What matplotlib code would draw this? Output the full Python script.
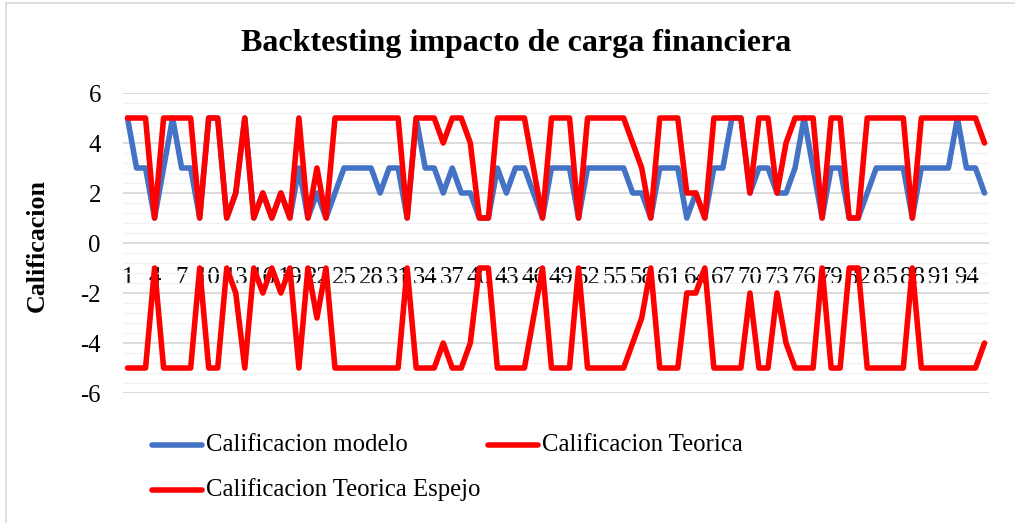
import matplotlib
matplotlib.use("Agg")
import matplotlib.pyplot as plt
from matplotlib.ticker import MultipleLocator
from matplotlib.lines import Line2D

# ---- data ----
periodos = list(range(1, 97))
calif_modelo = [5, 3, 3, 1, 3, 5, 3, 3, 1, 5, 5, 1, 2, 5, 1, 2, 1, 2, 1, 3,
                1, 2, 1, 2, 3, 3, 3, 3, 2, 3, 3, 1, 5, 3, 3, 2, 3, 2, 2, 1,
                1, 3, 2, 3, 3, 2, 1, 3, 3, 3, 1, 3, 3, 3, 3, 3, 2, 2, 1, 3,
                3, 3, 1, 2, 1, 3, 3, 5, 5, 2, 3, 3, 2, 2, 3, 5, 3, 1, 3, 3,
                1, 1, 2, 3, 3, 3, 3, 1, 3, 3, 3, 3, 5, 3, 3, 2]
calif_teorica = [5, 5, 5, 1, 5, 5, 5, 5, 1, 5, 5, 1, 2, 5, 1, 2, 1, 2, 1, 5,
                 1, 3, 1, 5, 5, 5, 5, 5, 5, 5, 5, 1, 5, 5, 5, 4, 5, 5, 4, 1,
                 1, 5, 5, 5, 5, 3, 1, 5, 5, 5, 1, 5, 5, 5, 5, 5, 4, 3, 1, 5,
                 5, 5, 2, 2, 1, 5, 5, 5, 5, 2, 5, 5, 2, 4, 5, 5, 5, 1, 5, 5,
                 1, 1, 5, 5, 5, 5, 5, 1, 5, 5, 5, 5, 5, 5, 5, 4]
calif_espejo = [-5, -5, -5, -1, -5, -5, -5, -5, -1, -5, -5, -1, -2, -5, -1, -2, -1, -2, -1, -5,
                -1, -3, -1, -5, -5, -5, -5, -5, -5, -5, -5, -1, -5, -5, -5, -4, -5, -5, -4, -1,
                -1, -5, -5, -5, -5, -3, -1, -5, -5, -5, -1, -5, -5, -5, -5, -5, -4, -3, -1, -5,
                -5, -5, -2, -2, -1, -5, -5, -5, -5, -2, -5, -5, -2, -4, -5, -5, -5, -1, -5, -5,
                -1, -1, -5, -5, -5, -5, -5, -1, -5, -5, -5, -5, -5, -5, -5, -4]
x_tick_vals = list(range(1, 97, 3))
x_tick_labels = [str(v) for v in x_tick_vals]
y_tick_vals = [-6, -4, -2, 0, 2, 4, 6]
y_tick_labels = ["-6", "-4", "-2", "0", "2", "4", "6"]
series_names = ["Calificacion modelo", "Calificacion Teorica", "Calificacion Teorica Espejo"]
title = "Backtesting impacto de carga financiera"
ylabel = "Calificacion"

BLUE = "#4472C4"
RED = "#FF0000"

plt.rcParams['font.family'] = ['Liberation Serif', 'DejaVu Serif']

W, H = 1015, 523
fig = plt.figure(figsize=(W / 100, H / 100), dpi=100)

# chart border
fig.add_artist(Line2D([6 / W, 6 / W], [0, 1 - 3 / H], transform=fig.transFigure,
                      color="#D9D9D9", lw=1.2))
fig.add_artist(Line2D([6 / W, 1], [1 - 3 / H, 1 - 3 / H], transform=fig.transFigure,
                      color="#D9D9D9", lw=1.2))

left, right, top, bottom = 123, 989, 93, 393
ax = fig.add_axes([left / W, (H - bottom) / H, (right - left) / W, (bottom - top) / H])

lw = 4.0
kw = dict(solid_joinstyle='round', solid_capstyle='round')
ax.plot(periodos, calif_modelo, color=BLUE, lw=lw, zorder=3, **kw)
ax.plot(periodos, calif_teorica, color=RED, lw=lw, zorder=4, **kw)
ax.plot(periodos, calif_espejo, color=RED, lw=lw, zorder=5, **kw)

ax.set_xlim(0.5, 96.5)
ax.set_ylim(-6, 6)
ax.yaxis.set_major_locator(MultipleLocator(2))
ax.yaxis.set_minor_locator(MultipleLocator(0.4))
ax.grid(axis='y', which='major', color="#D9D9D9", lw=1.3, zorder=0)
ax.grid(axis='y', which='minor', color="#F2F2F2", lw=1.0, zorder=0)
ax.set_axisbelow(True)

ax.set_xticks(x_tick_vals)
ax.set_xticklabels(x_tick_labels)
ax.spines['bottom'].set_position(('data', 0))
for s in ax.spines.values():
    s.set_color('none')
ax.tick_params(axis='x', length=0, pad=17, labelsize=17.8, colors='black')
ax.tick_params(axis='y', which='both', length=0, pad=16, labelsize=17.8)
ax.set_yticks(y_tick_vals)
ax.set_yticklabels(y_tick_labels)

fig.text(516 / W, 1 - 43 / H, title, ha='center', va='center', fontsize=23, fontweight='bold')
fig.text(37 / W, 1 - 245 / H, ylabel, ha='center', va='center', rotation=90,
         fontsize=18.7, fontweight='bold')

# legend (Excel-style layout)
legend_items = [(152, 445, BLUE, series_names[0]),
                (488, 445, RED, series_names[1]),
                (152, 490, RED, series_names[2])]
for x0, y0, c, name in legend_items:
    fig.add_artist(Line2D([x0 / W, (x0 + 50) / W], [1 - y0 / H, 1 - y0 / H],
                          transform=fig.transFigure, color=c, lw=lw, solid_capstyle='round'))
    fig.text((x0 + 54) / W, 1 - y0 / H, name, ha='left', va='center', fontsize=17.8)

fig.savefig("out.png", dpi=100)
